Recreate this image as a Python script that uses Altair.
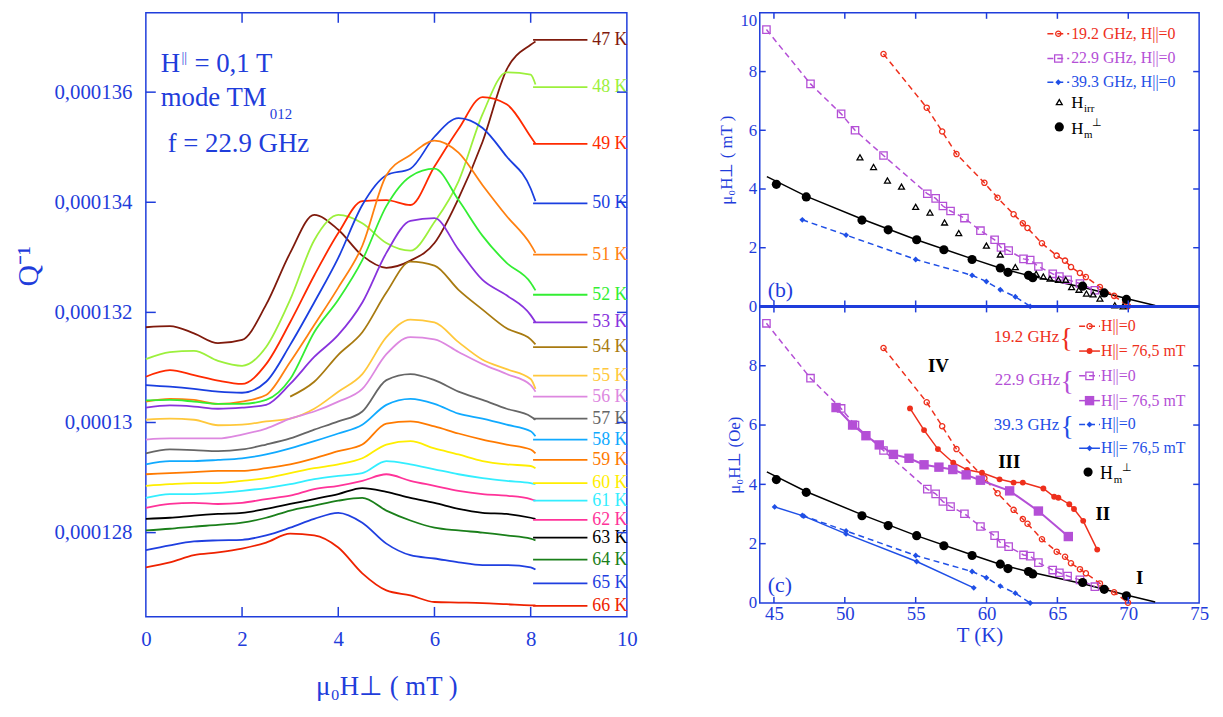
import altair as alt
import pandas as pd

SERIF = "Liberation Serif"
BLUE = "#1f3ddb"
RED = "#ee2f1c"
PURPLE = "#b44fd6"
LBLUE = "#1f4fe6"

# ---------------- left panel : Q^-1 (units of 1e-6) vs mu0 H_perp (mT) ----------------
FIELD_MT = [0, 0.5, 1, 1.5, 2, 2.5, 3, 3.5, 4, 4.5, 5, 5.5, 6, 6.5, 7, 7.5, 8, 8.1]
TEMPS = ["47 K", "48 K", "49 K", "50 K", "51 K", "52 K", "53 K", "54 K", "55 K", "56 K",
         "57 K", "58 K", "59 K", "60 K", "61 K", "62 K", "63 K", "64 K", "65 K", "66 K"]
CURVE_COLORS = ["#7f1a0c", "#9cf03c", "#ff2a00", "#1a3fe0", "#ff8010", "#33ee33", "#8833dd",
                "#a87a10", "#ffc83c", "#dd88e0", "#666666", "#10aaff", "#ff7a00", "#ffee00",
                "#33eeff", "#ff3399", "#000000", "#1a7f1a", "#1f3fe0", "#ee2200"]
Q47 = [131.73, 131.75, 131.62, 131.44, 131.50, 132.14, 133.08, 133.77, 133.50, 133.03, 132.81, 132.94, 133.26, 134.07, 135.10, 136.41, 136.86, 136.92]
Q48 = [131.15, 131.28, 131.30, 131.12, 131.03, 131.37, 132.23, 133.31, 133.77, 133.62, 133.26, 133.12, 133.64, 134.38, 135.60, 136.36, 136.32, 136.14]
Q49 = [130.83, 130.95, 130.86, 130.76, 130.70, 131.06, 131.82, 132.67, 133.44, 134.02, 134.04, 133.95, 134.65, 135.33, 135.91, 135.78, 135.19, 135.06]
Q50 = [130.68, 130.65, 130.61, 130.56, 130.54, 130.74, 131.41, 132.18, 132.99, 133.95, 134.49, 134.61, 135.19, 135.53, 135.35, 134.83, 134.25, 134.02]
Q51 = [130.38, 130.43, 130.41, 130.34, 130.38, 130.50, 131.10, 131.77, 132.45, 133.21, 134.49, 134.86, 135.12, 134.90, 134.31, 133.75, 133.23, 133.08]
Q52 = [130.40, 130.41, 130.38, 130.34, 130.34, 130.41, 130.79, 131.64, 132.23, 132.95, 133.93, 134.47, 134.61, 134.04, 133.39, 132.90, 132.54, 132.40]
Q53 = [130.27, 130.31, 130.29, 130.25, 130.27, 130.32, 130.70, 131.19, 131.59, 132.18, 133.08, 133.66, 133.71, 133.14, 132.59, 132.31, 131.95, 131.82]
Q54 = [None, None, None, None, None, None, 130.47, 130.74, 131.23, 131.64, 132.36, 132.92, 132.85, 132.41, 132.05, 131.71, 131.51, 131.42]
Q55 = [130.05, 130.07, 130.05, 129.95, 129.96, 130.02, 130.07, 130.25, 130.56, 130.88, 131.55, 131.87, 131.82, 131.46, 131.14, 130.97, 130.79, 130.61]
Q56 = [129.69, 129.71, 129.71, 129.71, 129.78, 129.89, 130.07, 130.20, 130.38, 130.61, 131.24, 131.55, 131.51, 131.28, 131.06, 130.88, 130.68, 130.56]
Q57 = [129.44, 129.51, 129.50, 129.48, 129.51, 129.60, 129.71, 129.87, 130.02, 130.20, 130.77, 130.88, 130.77, 130.56, 130.41, 130.25, 130.11, 130.05]
Q58 = [129.24, 129.30, 129.30, 129.32, 129.35, 129.42, 129.53, 129.66, 129.80, 129.96, 130.32, 130.43, 130.34, 130.16, 130.07, 129.96, 129.84, 129.75]
Q59 = [129.06, 129.08, 129.10, 129.12, 129.12, 129.17, 129.24, 129.35, 129.48, 129.60, 129.98, 130.02, 129.93, 129.80, 129.69, 129.60, 129.51, 129.44]
Q60 = [128.85, 128.88, 128.90, 128.90, 128.94, 128.99, 129.08, 129.17, 129.24, 129.35, 129.60, 129.66, 129.53, 129.42, 129.30, 129.24, 129.21, 129.17]
Q61 = [128.63, 128.70, 128.70, 128.72, 128.76, 128.81, 128.88, 128.97, 129.03, 129.08, 129.30, 129.24, 129.15, 129.06, 128.99, 128.94, 128.90, 128.88]
Q62 = [128.45, 128.52, 128.54, 128.52, 128.54, 128.61, 128.67, 128.79, 128.85, 128.94, 129.06, 128.94, 128.85, 128.76, 128.70, 128.67, 128.61, 128.58]
Q63 = [128.25, 128.27, 128.31, 128.34, 128.36, 128.43, 128.52, 128.61, 128.70, 128.81, 128.74, 128.63, 128.54, 128.43, 128.36, 128.34, 128.27, 128.25]
Q64 = [128.04, 128.07, 128.11, 128.14, 128.18, 128.27, 128.40, 128.49, 128.58, 128.63, 128.40, 128.22, 128.09, 128.04, 128.00, 127.95, 127.89, 127.86]
Q65 = [127.68, 127.77, 127.84, 127.86, 127.87, 127.95, 128.09, 128.25, 128.36, 128.18, 127.80, 127.59, 127.53, 127.46, 127.41, 127.41, 127.37, 127.33]
Q66 = [127.37, 127.46, 127.59, 127.64, 127.71, 127.82, 127.98, 127.95, 127.73, 127.26, 126.95, 126.86, 126.74, 126.73, 126.72, 126.70, 126.68, 126.68]
Q_CURVES = [Q47, Q48, Q49, Q50, Q51, Q52, Q53, Q54, Q55, Q56, Q57, Q58, Q59, Q60, Q61, Q62, Q63, Q64, Q65, Q66]
LABEL_LEVELS = [136.95, 136.09, 135.06, 133.98, 133.05, 132.32, 131.82, 131.37, 130.85, 130.47,
                130.07, 129.69, 129.32, 128.90, 128.58, 128.23, 127.91, 127.51, 127.08, 126.67]
LEFT_X_TICKS = [0, 2, 4, 6, 8, 10]
LEFT_Y_TICKS = [128, 130, 132, 134, 136]
SEG_FROM, SEG_TO, LABEL_AT = 8.05, 9.18, 9.28

# ---------------- right panels : mu0 H_perp vs T ----------------
F19_T = [52.73, 55.78, 56.87, 57.88, 59.85, 60.78, 61.91, 62.56, 62.89, 63.91, 64.95, 65.54, 65.96, 66.59, 67.01, 68.00, 69.00, 69.98]
F19_H = [8.60, 6.77, 5.96, 5.19, 4.21, 3.70, 3.14, 2.83, 2.67, 2.15, 1.73, 1.56, 1.34, 1.14, 1.00, 0.66, 0.36, 0.01]
F22_T = [44.47, 47.58, 49.74, 50.72, 52.73, 55.82, 56.41, 56.92, 57.46, 58.44, 59.57, 60.57, 61.02, 61.56, 62.61, 63.08, 63.66, 64.67, 65.14, 65.72, 66.59, 67.64]
F22_H = [9.43, 7.58, 6.56, 6.00, 5.14, 3.84, 3.68, 3.42, 3.25, 3.01, 2.58, 2.27, 2.01, 1.90, 1.62, 1.58, 1.36, 1.11, 1.02, 0.91, 0.78, 0.55]
F39_T = [47.0, 50.09, 55.0, 58.98, 59.99, 60.97, 62.03, 63.08]
F39_H = [2.95, 2.43, 1.60, 1.06, 0.85, 0.57, 0.33, 0.0]
HIRR_T = [51.07, 52.03, 53.01, 54.0, 55.0, 56.01, 57.04, 58.04, 59.99, 60.97, 62.03, 63.5, 64.01, 64.48, 65.07, 65.59, 66.0, 66.52, 67.05, 67.52, 68.0, 69.05, 69.63]
HIRR_H = [5.08, 4.75, 4.29, 4.08, 3.39, 3.20, 2.86, 2.50, 2.07, 1.77, 1.34, 1.11, 1.02, 0.95, 0.91, 0.91, 0.66, 0.57, 0.44, 0.41, 0.27, 0.04, 0.0]
HM_T = [45.17, 47.28, 51.21, 53.06, 55.07, 56.99, 58.98, 60.97, 61.51, 62.96, 63.26, 66.78, 68.30, 69.87]
HM_H = [4.16, 3.73, 2.94, 2.61, 2.27, 1.93, 1.60, 1.31, 1.16, 1.06, 0.98, 0.69, 0.46, 0.24]
HMFIT_T = [44.5, 47.3, 51.2, 55.0, 59.0, 61.0, 63.0, 66.8, 70.0, 71.9]
HMFIT_H = [4.42, 3.75, 2.98, 2.28, 1.62, 1.30, 1.05, 0.65, 0.25, 0.03]
F19B_T = [54.6, 55.59, 56.57, 57.65, 58.63, 59.68, 60.92, 61.91, 62.56, 64.01, 64.77, 65.07, 65.84, 66.17, 66.82, 67.81]
F19B_H = [6.56, 5.83, 5.19, 4.73, 4.49, 4.39, 4.17, 4.06, 4.06, 3.86, 3.58, 3.55, 3.33, 3.17, 2.77, 1.80]
F22B_T = [49.38, 50.55, 51.49, 52.43, 53.43, 54.53, 55.59, 56.64, 57.62, 58.56, 59.57, 61.63, 63.66, 65.77]
F22B_H = [6.59, 6.00, 5.64, 5.33, 5.01, 4.88, 4.66, 4.58, 4.50, 4.32, 4.14, 3.78, 3.10, 2.24]
F39B_T = [45.05, 47.11, 50.09, 55.07, 59.1]
F39B_H = [3.24, 2.93, 2.33, 1.40, 0.51]
ROMAN = ["IV", "III", "II", "I"]
ROMAN_T = [56.6, 61.6, 68.2, 70.8]
ROMAN_H = [8.0, 4.75, 3.0, 0.85]
RIGHT_X_TICKS = [45, 50, 55, 60, 65, 70, 75]
RIGHT_Y_TICKS = [0, 2, 4, 6, 8, 10]

ONE = pd.DataFrame({"a": [0]})

# ---------------- build left panel ----------------
LW, LH = 485, 609
rows = []
for t, vals in zip(TEMPS, Q_CURVES):
    for x, v in zip(FIELD_MT, vals):
        if v is not None:
            rows.append({"temp": t, "h": x, "q": v})
curve_df = pd.DataFrame(rows)
seg_df = pd.DataFrame([{"temp": t, "h": hx, "q": lv} for t, lv in zip(TEMPS, LABEL_LEVELS) for hx in (SEG_FROM, SEG_TO)])
lab_df = pd.DataFrame({"temp": TEMPS, "h": [LABEL_AT] * len(TEMPS), "q": LABEL_LEVELS})

LX = alt.Scale(domain=[0, 10], nice=False, zero=False)
LY = alt.Scale(domain=[126.47, 137.44], nice=False, zero=False)
CSCALE = alt.Scale(domain=TEMPS, range=CURVE_COLORS)

L_XAXIS = alt.Axis(values=LEFT_X_TICKS, ticks=False, domain=False, grid=False, labelFlush=False,
                   labelFont=SERIF, labelFontSize=21, labelColor=BLUE, labelPadding=12,
                   title="μ₀H⊥ ( mT )", titleFont=SERIF, titleFontSize=27, titleColor=BLUE,
                   titleFontWeight="normal", titlePadding=24)
L_YAXIS = alt.Axis(values=LEFT_Y_TICKS, ticks=False, domain=False, grid=False,
                   labelExpr="replace(format(datum.value / 1000000, '.6~f'), '.', ',')",
                   labelFont=SERIF, labelFontSize=21, labelColor=BLUE, labelPadding=14,
                   title="Q⁻¹", titleFont=SERIF, titleFontSize=30, titleColor=BLUE,
                   titleFontWeight="normal", titlePadding=10, titleY=255)

LXE = alt.X("h:Q", scale=LX, axis=L_XAXIS)
LYE = alt.Y("q:Q", scale=LY, axis=L_YAXIS)
LCOL = alt.Color("temp:N", scale=CSCALE, legend=None)

curves = alt.Chart(curve_df).mark_line(strokeWidth=1.8, interpolate="monotone").encode(x=LXE, y=LYE, color=LCOL)
segs = alt.Chart(seg_df).mark_line(strokeWidth=1.8).encode(x=LXE, y=LYE, color=LCOL)
labels = alt.Chart(lab_df).mark_text(align="left", baseline="middle", font=SERIF, fontSize=18).encode(
    x=LXE, y=LYE, text="temp:N", color=LCOL)


def inner_ticks(xvals, yvals, xenc, yenc, xf, yf, w, h, ln):
    xt = pd.DataFrame({xf: xvals})
    yt = pd.DataFrame({yf: yvals})
    r = dict(color=BLUE, strokeWidth=1.5)
    return [
        alt.Chart(xt).mark_rule(**r).encode(x=xenc, y=alt.value(h), y2=alt.value(h - ln)),
        alt.Chart(xt).mark_rule(**r).encode(x=xenc, y=alt.value(0), y2=alt.value(ln)),
        alt.Chart(yt).mark_rule(**r).encode(y=yenc, x=alt.value(0), x2=alt.value(ln)),
        alt.Chart(yt).mark_rule(**r).encode(y=yenc, x=alt.value(w), x2=alt.value(w - ln)),
    ]


def txt(s, x, y, size, color=BLUE, align="left", baseline="alphabetic", weight="normal"):
    return alt.Chart(ONE).mark_text(text=s, align=align, baseline=baseline, font=SERIF,
                                    fontSize=size, color=color, fontWeight=weight).encode(
        x=alt.value(x), y=alt.value(y))


annot = [
    txt("H", 15, 60, 27), txt("||", 36, 50, 14), txt("= 0,1 T", 49, 60, 27),
    txt("mode TM", 15, 94, 27), txt("012", 125, 107, 15),
    txt("f = 22.9 GHz", 22, 140, 27),
]

left = alt.layer(curves, segs, labels,
                 *inner_ticks([2, 4, 6, 8], LEFT_Y_TICKS, LXE, LYE, "h", "q", LW, LH, 10),
                 *annot).properties(width=LW, height=LH)

# ---------------- build right panels ----------------
RW, BH, CH = 443, 296, 299
RX = alt.Scale(domain=[44, 75], nice=False, zero=False)
RY = alt.Scale(domain=[0, 10], nice=False, zero=False)
DASH = [6, 4]

B_YAXIS = alt.Axis(values=RIGHT_Y_TICKS, ticks=False, domain=False, grid=False,
                   labelFont=SERIF, labelFontSize=17, labelColor=BLUE, labelPadding=3,
                   labelBaseline={"condition": {"test": "datum.value == 10", "value": "top"}, "value": "middle"},
                   title="μ₀H⊥ ( mT )", titleFont=SERIF, titleFontSize=17, titleColor=BLUE,
                   titleFontWeight="normal", titlePadding=5)
C_XAXIS = alt.Axis(values=RIGHT_X_TICKS, ticks=False, domain=False, grid=False, labelFlush=False,
                   labelFont=SERIF, labelFontSize=19, labelColor=BLUE, labelPadding=2,
                   title="T (K)", titleFont=SERIF, titleFontSize=21, titleColor=BLUE,
                   titleFontWeight="normal", titlePadding=1)
C_YAXIS = alt.Axis(values=[0, 2, 4, 6, 8], ticks=False, domain=False, grid=False,
                   labelFont=SERIF, labelFontSize=17, labelColor=BLUE, labelPadding=3,
                   title="μ₀H⊥ (Oe)", titleFont=SERIF, titleFontSize=17, titleColor=BLUE,
                   titleFontWeight="normal", titlePadding=5)


def df(t, h):
    return pd.DataFrame({"T": t, "H": h})


def make_panel(xaxis, yaxis):
    xe = alt.X("T:Q", scale=RX, axis=xaxis)
    ye = alt.Y("H:Q", scale=RY, axis=yaxis)

    def line(t, h, color, dash=None, width=1.5):
        kw = dict(color=color, strokeWidth=width)
        if dash:
            kw["strokeDash"] = dash
        return alt.Chart(df(t, h)).mark_line(**kw).encode(x=xe, y=ye)

    def pts(t, h, color, shape, filled, size):
        return alt.Chart(df(t, h)).mark_point(shape=shape, filled=filled, color=color, size=size,
                                              opacity=1, strokeWidth=1.3).encode(x=xe, y=ye)
    return xe, ye, line, pts


def legend_row(x0, x1, y, color, dash, shape, filled, size, label, tx, fsize):
    kw = dict(color=color, strokeWidth=1.5)
    if dash:
        kw["strokeDash"] = dash
    out = [
        alt.Chart(ONE).mark_rule(**kw).encode(x=alt.value(x0), x2=alt.value(x1), y=alt.value(y)),
        alt.Chart(ONE).mark_point(shape=shape, filled=filled, color=color, size=size, opacity=1,
                                  strokeWidth=1.3).encode(x=alt.value((x0 + x1) / 2), y=alt.value(y)),
    ]
    if label:
        out.append(txt(label, tx, y, fsize, color=color, baseline="middle"))
    return out


bxe, bye, bline, bpts = make_panel(None, B_YAXIS)
b_layers = [
    bline(HMFIT_T, HMFIT_H, "black"),
    bline(F19_T, F19_H, RED, DASH),
    bline(F22_T, F22_H, PURPLE, DASH),
    bline(F39_T, F39_H, LBLUE, DASH),
    bpts(F19_T, F19_H, RED, "circle", False, 28),
    bpts(F22_T, F22_H, PURPLE, "square", False, 55),
    bpts(F39_T, F39_H, LBLUE, "diamond", True, 35),
    bpts(HIRR_T, HIRR_H, "black", "triangle-up", False, 35),
    bpts(HM_T, HM_H, "black", "circle", True, 85),
    alt.Chart(ONE).mark_rule(color=BLUE, strokeWidth=3).encode(x=alt.value(0), x2=alt.value(RW), y=alt.value(BH)),
    *inner_ticks([45, 50, 55, 60, 65, 70], [2, 4, 6, 8], bxe, bye, "T", "H", RW, BH, 6),
    txt("(b)", 8, 279, 22, baseline="middle"),
    *legend_row(290, 312, 21, RED, DASH, "circle", False, 28, "19.2 GHz, H||=0", 314, 16),
    *legend_row(290, 312, 46, PURPLE, DASH, "square", False, 55, "22.9 GHz, H||=0", 314, 16),
    *legend_row(290, 312, 70, LBLUE, DASH, "diamond", True, 35, "39.3 GHz, H||=0", 314, 16),
    alt.Chart(ONE).mark_point(shape="triangle-up", filled=False, color="black", size=35, opacity=1,
                              strokeWidth=1.3).encode(x=alt.value(302), y=alt.value(90)),
    txt("H", 314, 96, 17, color="black"), txt("irr", 327, 100, 11, color="black"),
    alt.Chart(ONE).mark_point(shape="circle", filled=True, color="black", size=85, opacity=1).encode(
        x=alt.value(302), y=alt.value(115)),
    txt("H", 314, 122, 17, color="black"), txt("m", 327, 126, 11, color="black"),
    txt("⊥", 335, 114, 11, color="black"),
]
panel_b = alt.layer(*b_layers).properties(width=RW, height=BH)

cxe, cye, cline, cpts = make_panel(C_XAXIS, C_YAXIS)
roman_df = pd.DataFrame({"T": ROMAN_T, "H": ROMAN_H, "s": ROMAN})
c_layers = [
    cline(HMFIT_T, HMFIT_H, "black"),
    cline(F19_T, F19_H, RED, DASH),
    cline(F19B_T, F19B_H, RED),
    cline(F22_T, F22_H, PURPLE, DASH),
    cline(F22B_T, F22B_H, PURPLE, width=2),
    cline(F39_T, F39_H, LBLUE, DASH),
    cline(F39B_T, F39B_H, LBLUE),
    cpts(F19_T, F19_H, RED, "circle", False, 28),
    cpts(F19B_T, F19B_H, RED, "circle", True, 35),
    cpts(F22_T, F22_H, PURPLE, "square", False, 55),
    cpts(F22B_T, F22B_H, PURPLE, "square", True, 90),
    cpts(F39_T, F39_H, LBLUE, "diamond", True, 35),
    cpts(F39B_T, F39B_H, LBLUE, "diamond", True, 35),
    cpts(HM_T, HM_H, "black", "circle", True, 85),
    alt.Chart(roman_df).mark_text(font=SERIF, fontSize=19, fontWeight="bold", color="black").encode(
        x=cxe, y=cye, text="s:N"),
    *inner_ticks([45, 50, 55, 60, 65, 70], [2, 4, 6, 8], cxe, cye, "T", "H", RW, CH, 6),
    txt("(c)", 8, 281, 22, baseline="middle"),
    txt("19.2 GHz", 302, 31, 17, color=RED, align="right", baseline="middle"),
    txt("{", 309, 33, 28, color=RED, align="center", baseline="middle"),
    txt("22.9 GHz", 303, 74, 17, color=PURPLE, align="right", baseline="middle"),
    txt("{", 310, 76, 28, color=PURPLE, align="center", baseline="middle"),
    txt("39.3 GHz", 302, 120, 17, color=LBLUE, align="right", baseline="middle"),
    txt("{", 310, 122, 28, color=LBLUE, align="center", baseline="middle"),
    *legend_row(322, 343, 20, RED, DASH, "circle", False, 28, "H||=0", 344, 16),
    *legend_row(322, 343, 45, RED, None, "circle", True, 35, "H||= 76,5 mT", 344, 16),
    *legend_row(322, 343, 70, PURPLE, DASH, "square", False, 55, "H||=0", 344, 16),
    *legend_row(322, 343, 95, PURPLE, None, "square", True, 90, "H||= 76,5 mT", 344, 16),
    *legend_row(322, 343, 119, LBLUE, DASH, "diamond", True, 35, "H||=0", 344, 16),
    *legend_row(322, 343, 143, LBLUE, None, "diamond", True, 35, "H||= 76,5 mT", 344, 16),
    alt.Chart(ONE).mark_point(shape="circle", filled=True, color="black", size=85, opacity=1).encode(
        x=alt.value(331), y=alt.value(167)),
    txt("H", 343, 174, 18, color="black"), txt("m", 357, 178, 11, color="black"),
    txt("⊥", 365, 166, 11, color="black"),
]
panel_c = alt.layer(*c_layers).properties(width=RW, height=CH)

right = alt.vconcat(panel_b, panel_c, spacing=0, bounds="flush")

chart = alt.hconcat(left, right, spacing=134, bounds="flush").properties(
    padding={"left": 5, "top": 0, "right": 5, "bottom": 5}
).configure(font=SERIF, view=alt.ViewConfig(stroke=BLUE, strokeWidth=1.5))

chart.save("out.html", embed_options={"renderer": "svg", "actions": False})
